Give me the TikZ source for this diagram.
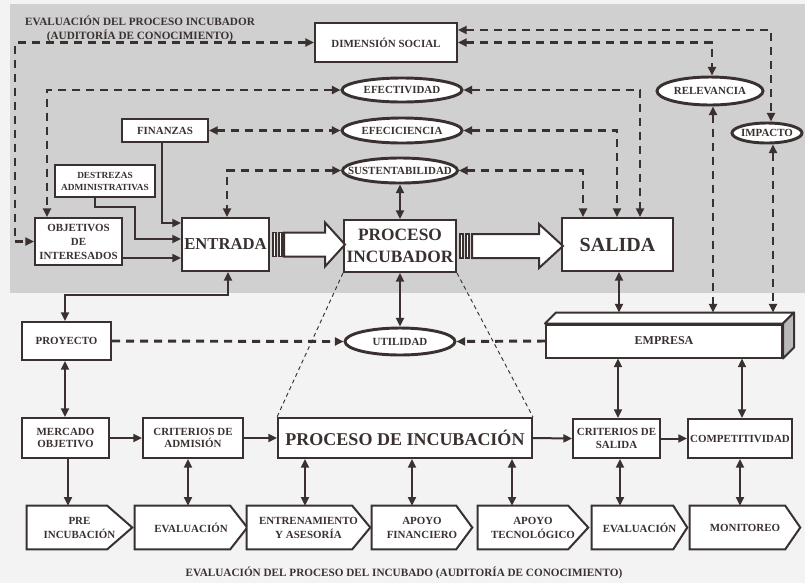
\documentclass[tikz,border=0pt]{standalone}
\usepackage{fontspec}
\setmainfont{Liberation Serif}
\usetikzlibrary{arrows.meta,shapes.geometric,calc}
\pgfdeclarelayer{back}
\pgfsetlayers{back,main}

\definecolor{ink}{RGB}{58,48,48}
\definecolor{greyzone}{RGB}{208,208,208}
\definecolor{paper}{RGB}{243,243,243}

\tikzset{
  sz/.style 2 args={minimum width=#1*0.75pt, minimum height=#2*0.75pt},
  fs/.style={font={\bfseries\fontsize{8.2}{9.5}\selectfont}},
  box/.style={draw=ink, fill=white, line width=1.5pt, inner sep=1pt, align=center, fs},
  oval/.style={ellipse, draw=ink, fill=white, line width=2.2pt, inner sep=0pt, fs},
  pent/.style={inner sep=0pt, align=center, font={\bfseries\fontsize{8.2}{10.5}\selectfont}},
  link/.style={draw=ink, line width=1.5pt},
  dlink/.style={draw=ink, line width=2.2pt, dash pattern=on 6pt off 4.5pt},
  blk/.style={draw=ink, fill=white, line width=1.5pt, line join=miter},
  bar/.style={draw=ink, fill=white, line width=1pt}
}

% zero-width text so the ellipses keep their own size
\newcommand\zw[1]{\makebox[0pt]{#1}}
% outline of an arrow-shaped (pentagon) box behind node #1, point depth #2
\newcommand\pentout[2]{%
  \begin{pgfonlayer}{back}
  \draw[ink, fill=white, line width=1.5pt, line join=miter]
    (#1.north west) -- ($(#1.north east)+(-#2,0)$) -- (#1.east)
    -- ($(#1.south east)+(-#2,0)$) -- (#1.south west) -- cycle;
  \end{pgfonlayer}}

\begin{document}
\begin{tikzpicture}[x=0.75pt,y=-0.75pt,
  >={Triangle[length=6.5pt,width=6pt]},
  every node/.style={text=ink}]
\useasboundingbox (0,0) rectangle (805,583);
\begin{pgfonlayer}{back}
  \fill[paper] (0,0) rectangle (805,583);
  \fill[greyzone] (10,4) rectangle (805,293);
\end{pgfonlayer}

% ---------- upper level: evaluation of the incubation process ----------
\node[align=center, font={\bfseries\fontsize{8.4}{10}\selectfont}] (ttl) at (140,29)
  {EVALUACIÓN DEL PROCESO INCUBADOR\\(AUDITORÍA DE CONOCIMIENTO)};

\node[box, sz={142}{39}] (ds) at (386,42.5) {DIMENSIÓN SOCIAL};
\node[oval, sz={120}{24}] (efec) at (402,90) {\zw{EFECTIVIDAD}};
\node[oval, sz={120}{25}] (efic) at (402,130.5) {\zw{EFECICIENCIA}};
\node[oval, sz={115}{25}] (sust) at (400,170.5) {\zw{SUSTENTABILIDAD}};
\node[oval, sz={106}{28}] (rel) at (710,91) {\zw{RELEVANCIA}};
\node[oval, sz={70}{20}] (imp) at (767,133) {\zw{IMPACTO}};

\node[box, sz={86}{23}] (fin) at (165,130.5) {FINANZAS};
\node[box, sz={100}{32}, font={\bfseries\fontsize{7}{9}\selectfont}] (dest) at (105,181) {DESTREZAS\\ADMINISTRATIVAS};
\node[box, sz={87}{47}, font={\bfseries\fontsize{8.2}{10.5}\selectfont}] (obj) at (78.5,241.5) {OBJETIVOS\\DE\\INTERESADOS};
\node[box, sz={87}{53}, font={\bfseries\fontsize{12.5}{14}\selectfont}] (ent) at (225.5,244.5) {ENTRADA};
\node[box, sz={112}{52}, font={\bfseries\fontsize{13}{16.5}\selectfont}] (pi) at (400,246) {PROCESO\\INCUBADOR};
\node[box, sz={111}{53}, font={\bfseries\fontsize{15}{17}\selectfont}] (sal) at (617.5,244.5) {SALIDA};
\node[box, sz={89}{38}] (proy) at (66.5,341) {PROYECTO};
\node[oval, sz={110}{27}] (util) at (400,341.5) {\zw{UTILIDAD}};
\node[box, sz={236}{33}, font={\bfseries\fontsize{9}{10}\selectfont}] (emp) at (664,341) {EMPRESA};
\coordinate (emptop) at ($(emp.north)+(0,-11)$);

% EMPRESA drawn as a slab: top and side faces
\draw[ink, fill=white, line width=1.5pt, line join=round]
  (emp.north west) -- ++(11,-11) -- ($(emp.north east)+(11,-11)$) -- (emp.north east) -- cycle;
\draw[ink, fill=gray!55, line width=1.5pt, line join=round]
  (emp.north east) -- ++(11,-11) -- ($(emp.south east)+(11,-11)$) -- (emp.south east) -- cycle;

% ---------- lower level: incubation of the project ----------
\node[box, sz={87}{40}] (merc) at (65.5,438) {MERCADO\\OBJETIVO};
\node[box, sz={100}{40}] (cadm) at (193,438) {CRITERIOS DE\\ADMISIÓN};
\node[box, sz={254}{40}, font={\bfseries\fontsize{13.5}{15}\selectfont}] (pdi) at (405,438) {PROCESO DE INCUBACIÓN};
\node[box, sz={87}{39}] (csal) at (616.5,438.5) {CRITERIOS DE\\SALIDA};
\node[box, sz={104}{39}] (comp) at (740,438.5) {COMPETITIVIDAD};

\node[pent, sz={105}{43}] (pre) at (79.5,527.5) {PRE\\INCUBACIÓN};
\node[pent, sz={112}{43}] (ev1) at (191,527.5) {EVALUACIÓN};
\node[pent, sz={123}{43}] (entr) at (308.5,527.5) {ENTRENAMIENTO\\Y ASESORÍA};
\node[pent, sz={100}{43}] (apf) at (422,527.5) {APOYO\\FINANCIERO};
\node[pent, sz={110}{43}] (apt) at (533,527.5) {APOYO\\TECNOLÓGICO};
\node[pent, sz={95}{43}] (ev2) at (639.5,527.5) {EVALUACIÓN};
\node[pent, sz={110}{43}] (mon) at (745,527.5) {MONITOREO};
\pentout{pre}{25}
\pentout{ev1}{17}
\pentout{entr}{18}
\pentout{apf}{16}
\pentout{apt}{20}
\pentout{ev2}{14}
\pentout{mon}{15}

\node[font={\bfseries\fontsize{8.4}{10}\selectfont}] (cap) at (404,573)
  {EVALUACIÓN DEL PROCESO DEL INCUBADO (AUDITORÍA DE CONOCIMIENTO)};

% ---------- dashed evaluation links ----------
\draw[dlink,<->] (ds.west) -- (15,0 |- ds.west) -- (15,0 |- obj.west) -- (obj.west);
\draw[dlink,<->] (efec.west) -- (47,0 |- efec.west) -- (47,0 |- obj.north);
\draw[dlink,<->] (fin.east) -- (efic.west);
\draw[dlink,<->] (sust.west) -- (227,0 |- sust.west) -- (227,0 |- ent.north);
\draw[dlink,<->] (efec.east) -- (640,0 |- efec.east) -- (640,0 |- sal.north);
\draw[dlink,<->] (efic.east) -- (617,0 |- efic.east) -- (617,0 |- sal.north);
\draw[dlink,<->] (sust.east) -- (583,0 |- sust.east) -- (583,0 |- sal.north);
\draw[dlink,<->] (ds.east) -- (712,0 |- ds.east) -- (712,0 |- rel.north);
\draw[dlink,<->] (ds.east |- 0,30) -- (771,30) -- (771,0 |- imp.north);
\draw[dlink,<->] (713,0 |- rel.south) -- (713,0 |- emptop);
\draw[dlink,<->] (773,0 |- imp.south) -- (773,0 |- emptop);
\draw[dlink,->] (proy.east) -- (util.west);
\draw[dlink,->] (emp.west) -- (util.east);

% ---------- solid links ----------
\draw[link,<->] (sust.south) -- (pi.north);
\draw[link,<->] (pi.south) -- (util.north);
\draw[link,->] (obj.east |- 0,258) -- (ent.west |- 0,258);
\draw[link,->] (162,0 |- fin.south) -- (162,223) -- (ent.west |- 0,223);
\draw[link,->] (95,0 |- dest.south) -- (95,207) -- (135,207) -- (135,239) -- (ent.west |- 0,239);
\draw[link,<->] (228,0 |- ent.south) -- (228,295) -- (65,295) -- (65,0 |- proy.north);
\draw[link,<->] (619,0 |- sal.south) -- (619,0 |- emptop);
\draw[link,<->] (65,0 |- proy.south) -- (65,0 |- merc.north);
\draw[link,<->] (618,0 |- emp.south) -- (618,0 |- csal.north);
\draw[link,<->] (742,0 |- emp.south) -- (742,0 |- comp.north);

\draw[link,->] (merc.east) -- (cadm.west);
\draw[link,->] (cadm.east) -- (pdi.west);
\draw[link,->] (pdi.east) -- (csal.west);
\draw[link,->] (csal.east) -- (comp.west);

\draw[link,->] (68,0 |- merc.south) -- (68,0 |- pre.north);
\draw[link,<->] (188,0 |- cadm.south) -- (188,0 |- ev1.north);
\draw[link,<->] (305,0 |- pdi.south) -- (305,0 |- entr.north);
\draw[link,<->] (412,0 |- pdi.south) -- (412,0 |- apf.north);
\draw[link,<->] (512,0 |- pdi.south) -- (512,0 |- apt.north);
\draw[link,<->] (620,0 |- csal.south) -- (620,0 |- ev2.north);
\draw[link,<->] (740,0 |- comp.south) -- (740,0 |- mon.north);

% zoom lines from the incubation process to its detail
\draw[ink, line width=0.7pt, dash pattern=on 3pt off 2.5pt] (pi.south west) -- (pdi.north west);
\draw[ink, line width=0.7pt, dash pattern=on 3pt off 2.5pt] (pi.south east) -- (pdi.north east);

% ---------- striped block arrows ----------
\begin{scope}[shift={(ent.east)}]
  \draw[bar] (3,-12) rectangle (6,12);
  \draw[bar] (9,-12) rectangle (12,12);
  \draw[blk] (14,-12) -- (55,-12) -- (55,-22) -- (75,0) -- (55,22) -- (55,12) -- (14,12) -- cycle;
\end{scope}
\begin{scope}[shift={(pi.east)}]
  \draw[bar] (3,-12) rectangle (6,12);
  \draw[bar] (9,-12) rectangle (12,12);
  \draw[blk] (15,-12) -- (82,-12) -- (82,-22) -- (106,0) -- (82,22) -- (82,12) -- (15,12) -- cycle;
\end{scope}
\end{tikzpicture}
\end{document}
